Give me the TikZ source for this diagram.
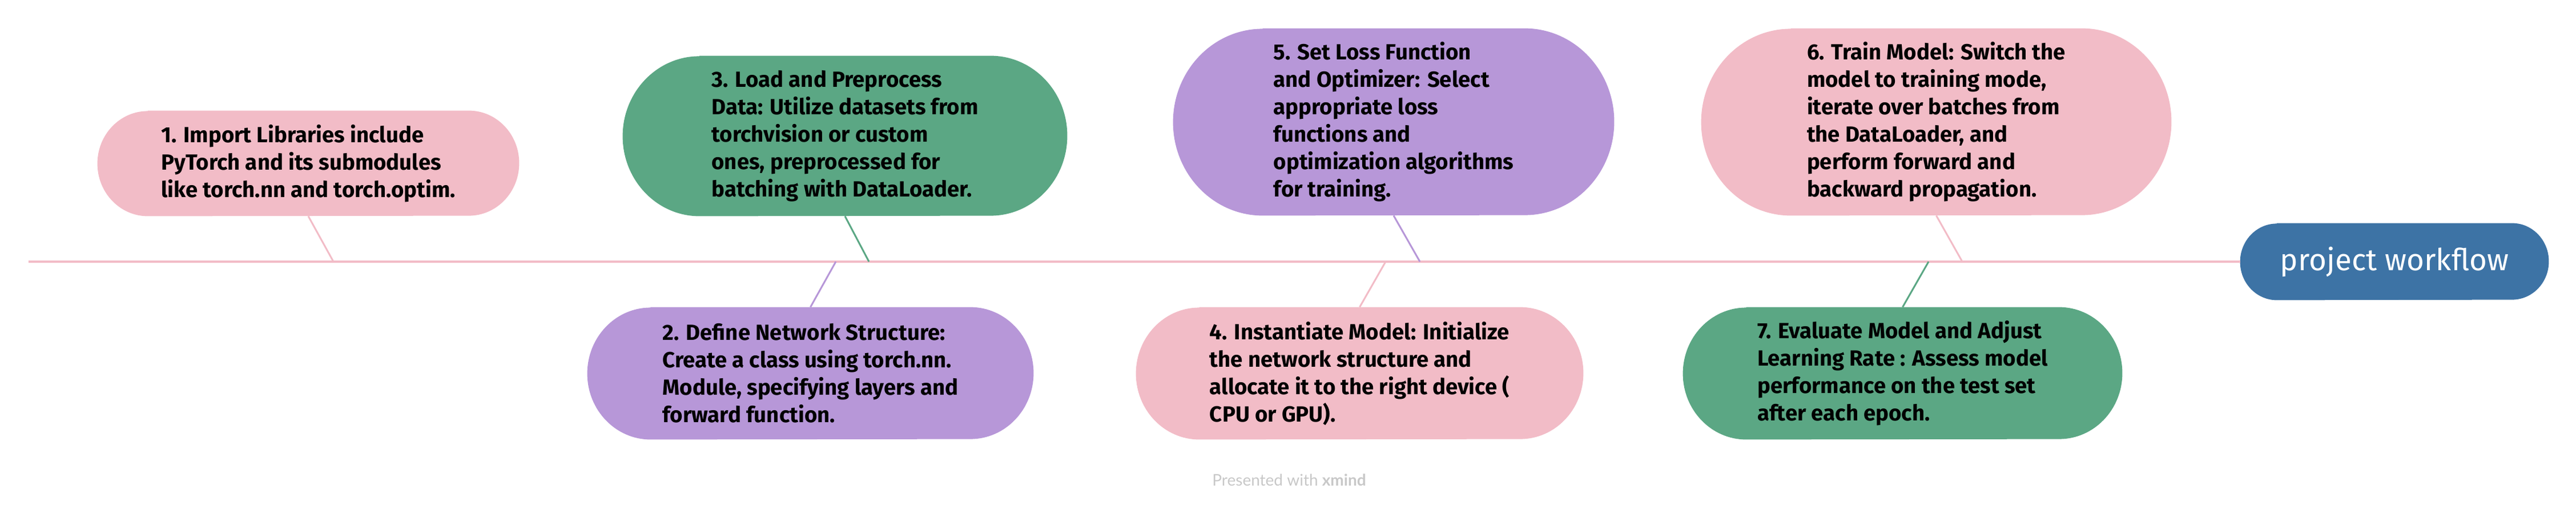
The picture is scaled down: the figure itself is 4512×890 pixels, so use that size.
\documentclass[tikz,border=0pt]{standalone}
\usepackage{fontspec}
\setmainfont{Lato}
\newfontfamily\topicfont{Fira Sans}
\usetikzlibrary{backgrounds}
\definecolor{cpink}{HTML}{F2BCC7}
\definecolor{cgreen}{HTML}{5BA784}
\definecolor{cpurple}{HTML}{B797D8}
\definecolor{cblue}{HTML}{3D73A5}
\definecolor{cgray}{HTML}{C8C8C8}
\newcommand\pillfill[3]{%
  \pgfmathsetmacro\pry{#3/4}%
  \pgfmathsetmacro\prx{0.24*#3}%
  \fill[#2] ([xshift=\prx pt]#1.north west) -- ([xshift=-\prx pt]#1.north east)
     arc[start angle=90,end angle=-90,x radius=\prx pt,y radius=\pry pt]
     -- ([xshift=\prx pt]#1.south west)
     arc[start angle=270,end angle=90,x radius=\prx pt,y radius=\pry pt] -- cycle;}
\tikzset{
  topic/.style={align=left, font=\topicfont\bfseries\fontsize{19.2}{24}\selectfont, text=black, inner sep=0pt},
  rootbox/.style={font=\topicfont\fontsize{26.5}{30}\selectfont, text=white, inner sep=0pt},
  spine/.style={draw=cpink, line width=2pt},
  link/.style={line width=1.5pt},
  footnote/.style={font=\fontsize{14}{16}\selectfont, text=cgray}
}
\begin{document}
\begin{tikzpicture}[x=0.5pt,y=-0.5pt]
\useasboundingbox (0,0) rectangle (4512,890);
% nodes
\node[topic, minimum width=369pt, minimum height=92pt] (b1) at (540,286)
  {1. Import Libraries include\\PyTorch and its submodules\\like torch.nn and torch.optim.};
\node[topic, minimum width=390.5pt, minimum height=115.5pt] (b2) at (1419.5,653.5)
  {2. Define Network Structure:\\Create a class using torch.nn.\\Module, specifying layers and\\forward function.};
\node[topic, minimum width=389pt, minimum height=140pt] (b3) at (1480,238)
  {3. Load and Preprocess\\Data: Utilize datasets from\\torchvision or custom\\ones, preprocessed for\\batching with DataLoader.};
\node[topic, minimum width=391.5pt, minimum height=115.5pt] (b4) at (2381.5,653.5)
  {4. Instantiate Model: Initialize\\the network structure and\\allocate it to the right device (\\CPU or GPU).};
\node[topic, minimum width=386pt, minimum height=163.5pt] (b5) at (2441,213.5)
  {5. Set Loss Function\\and Optimizer: Select\\appropriate loss\\functions and\\optimization algorithms\\for training.};
\node[topic, minimum width=411.5pt, minimum height=163.5pt] (b6) at (3391.5,213.5)
  {6. Train Model: Switch the\\model to training mode,\\iterate over batches from\\the DataLoader, and\\perform forward and\\backward propagation.};
\node[topic, minimum width=384.5pt, minimum height=115.5pt] (b7) at (3332.5,653.5)
  {7. Evaluate Model and Adjust\\Learning Rate : Assess model\\performance on the test set\\after each epoch.};
\node[rootbox, minimum width=270pt, minimum height=67pt] (root) at (4194,458) {project workflow};
\node[footnote] (foot) at (2258,840) {Presented with \textbf{xmind}};
% fills
\begin{pgfonlayer}{background}
\pillfill{b1}{cpink}{184}
\pillfill{b2}{cpurple}{231}
\pillfill{b3}{cgreen}{280}
\pillfill{b4}{cpink}{231}
\pillfill{b5}{cpurple}{327}
\pillfill{b6}{cpink}{327}
\pillfill{b7}{cgreen}{231}
\pillfill{root}{cblue}{134}
\end{pgfonlayer}
% spine
\coordinate (start) at (50,458);
\coordinate (j1) at (584,458);
\coordinate (j2) at (1464,458);
\coordinate (j3) at (1522,458);
\coordinate (j4) at (2427,458);
\coordinate (j5) at (2487,458);
\coordinate (j6) at (3437,458);
\coordinate (j7) at (3378,458);
\draw[spine] (start) -- (root.west);
\draw[link, cpink] (b1.south) -- (j1);
\draw[link, cpurple] (j2) -- (b2.north);
\draw[link, cgreen] (b3.south) -- (j3);
\draw[link, cpink] (j4) -- (b4.north);
\draw[link, cpurple] (b5.south) -- (j5);
\draw[link, cpink] (b6.south) -- (j6);
\draw[link, cgreen] (j7) -- (b7.north);
\end{tikzpicture}
\end{document}
